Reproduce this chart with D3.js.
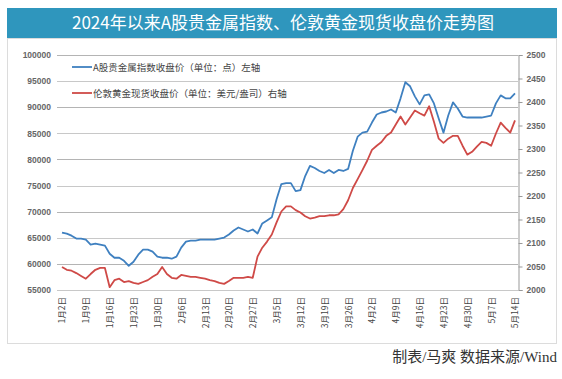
<!DOCTYPE html>
<html><head><meta charset="utf-8">
<script src="https://cdn.jsdelivr.net/npm/d3@7"></script>
<style>body{margin:0;background:#fff}svg{display:block}</style>
</head><body><svg id="c" width="562" height="379"></svg>
<script>
const title = "2024年以来A股贵金属指数、伦敦黄金现货收盘价走势图";
const footer = "制表/马爽  数据来源/Wind";
const seriesNames = ["A股贵金属指数收盘价（单位：点）左轴", "伦敦黄金现货收盘价（单位：美元/盎司）右轴"];
const tickLabels = ["1月2日","1月9日","1月16日","1月23日","1月30日","2月6日","2月13日","2月20日","2月27日","3月5日","3月12日","3月19日","3月26日","4月2日","4月9日","4月16日","4月23日","4月30日","5月7日","5月14日"];
const indexValues = [66000,65800,65400,64850,64850,64660,63690,63880,63690,63500,
 61950,61180,61180,60600,59640,60410,61760,62730,62730,62340,
 61380,61180,61180,60990,61380,63110,64270,64460,64460,64660,
 64660,64660,64660,64850,65040,65620,66400,66970,66590,66200,
 66590,65820,67750,68330,68910,72380,75280,75470,75470,73930,
 74120,76820,78760,78370,77790,77400,77980,77400,77980,77790,
 78180,81650,84360,85130,85320,87060,88610,88990,89180,89570,
 88990,91700,94790,94010,92080,90540,92270,92470,90730,87830,
 85130,88410,90920,89760,88220,88030,88030,88030,88030,88220,
 88410,90730,92270,91700,91700,92660];
const goldValues = [2049,2043,2041,2036,2030,2024,2034,2043,2047,2047,
 2006,2021,2024,2017,2019,2015,2013,2017,2021,2028,
 2034,2049,2034,2026,2024,2032,2030,2028,2028,2026,
 2024,2021,2019,2015,2013,2019,2026,2026,2026,2028,
 2026,2071,2090,2103,2118,2144,2167,2178,2178,2170,
 2165,2157,2152,2154,2157,2157,2159,2159,2161,2172,
 2191,2217,2236,2255,2275,2298,2307,2315,2328,2335,
 2352,2369,2352,2367,2382,2376,2371,2391,2358,2322,
 2313,2322,2328,2328,2307,2288,2294,2305,2315,2313,
 2307,2333,2356,2345,2335,2361];
const leftTicks = [55000,60000,65000,70000,75000,80000,85000,90000,95000,100000];
const rightTicks = [2000,2050,2100,2150,2200,2250,2300,2350,2400,2450,2500];

const svg = d3.select("#c");
const cjk = "'Noto Sans CJK SC','Noto Sans',sans-serif";
const plotTop = 55, plotBottom = 290, plotLeft = 62, plotRight = 515, axisR = 518;

// frame
svg.append("rect").attr("x",7.5).attr("y",38.5).attr("width",549).attr("height",305)
  .attr("fill","none").attr("stroke","#dcdcdc");
// title bar
svg.append("rect").attr("x",7).attr("y",8).attr("width",550).attr("height",30).attr("fill","#2f96bd");
svg.append("text").attr("x",283).attr("y",29).attr("text-anchor","middle")
  .attr("font-family",cjk).attr("font-size",17).attr("fill","#fff").text(title);

const x = d3.scaleLinear().domain([0, indexValues.length-1]).range([plotLeft, plotRight]);
const yL = d3.scaleLinear().domain([55000,100000]).range([plotBottom, plotTop]);
const yR = d3.scaleLinear().domain([2000,2500]).range([plotBottom, plotTop]);

// gridlines
svg.append("g").selectAll("line").data(leftTicks).join("line")
  .attr("x1",57).attr("x2",axisR).attr("y1",d=>Math.round(yL(d))+0.5).attr("y2",d=>Math.round(yL(d))+0.5)
  .attr("stroke",(d,i)=> i%2? "#b4b4b4":"#c8c8c8").attr("stroke-width",1);

// left axis
const gL = svg.append("g").attr("transform",`translate(57,0)`)
  .call(d3.axisLeft(yL).tickValues(leftTicks).tickSize(0).tickPadding(6).tickFormat(d3.format("d")));
gL.select(".domain").remove();
gL.selectAll("text").attr("font-family","'Liberation Sans',Arial,sans-serif").attr("font-size",8.5)
  .attr("fill","#666").attr("font-weight","bold");

// right axis
const gR = svg.append("g").attr("transform",`translate(${axisR+0.5},0)`)
  .call(d3.axisRight(yR).tickValues(rightTicks).tickSize(4).tickPadding(4).tickFormat(d3.format("d")));
gR.select(".domain").attr("stroke","#999");
gR.selectAll(".tick line").attr("stroke","#999");
gR.selectAll("text").attr("font-family","'Liberation Sans',Arial,sans-serif").attr("font-size",8.5)
  .attr("fill","#666").attr("font-weight","bold");

// x axis labels
const tickIdx = tickLabels.map((d,i)=>i*5);
const gX = svg.append("g").attr("transform",`translate(0,${plotBottom+5})`)
  .call(d3.axisBottom(x).tickValues(tickIdx).tickSize(0).tickFormat((d,i)=>tickLabels[i]));
gX.select(".domain").remove();
gX.selectAll("text").attr("font-family",cjk).attr("font-size",8.5).attr("fill","#444")
  .attr("transform","rotate(-90)").attr("text-anchor","end").attr("x",-2).attr("y",0).attr("dy","0.35em");

// lines
const lineL = d3.line().x((d,i)=>x(i)).y(d=>yL(d));
const lineR = d3.line().x((d,i)=>x(i)).y(d=>yR(d));
svg.append("path").datum(goldValues).attr("d",lineR).attr("fill","none")
  .attr("stroke","#cf4a47").attr("stroke-width",1.8).attr("stroke-linejoin","round");
svg.append("path").datum(indexValues).attr("d",lineL).attr("fill","none")
  .attr("stroke","#3f80c0").attr("stroke-width",1.8).attr("stroke-linejoin","round");

// legend
const colors = ["#3f80c0","#cf4a47"];
const lg = svg.append("g");
seriesNames.forEach((n,i)=>{
  const yy = 67 + i*26;
  lg.append("line").attr("x1",72).attr("x2",92).attr("y1",yy).attr("y2",yy).attr("stroke",colors[i]).attr("stroke-width",1.8);
  lg.append("text").attr("x",93).attr("y",yy+3.5).attr("font-family",cjk).attr("font-size",9.5).attr("fill","#444").text(n);
});

// footer
svg.append("text").attr("x",557).attr("y",362).attr("text-anchor","end")
  .attr("font-family","'Liberation Serif','Noto Sans CJK SC',serif").attr("font-size",15).attr("fill","#333").text(footer);
</script>
</body></html>
